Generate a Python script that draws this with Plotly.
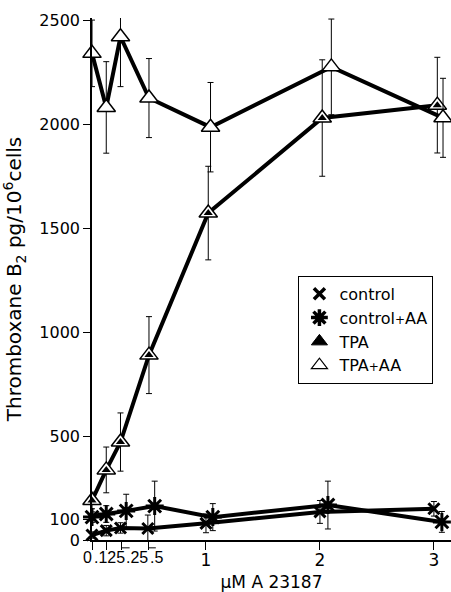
import plotly.graph_objects as go

# ---- data ----
x_tpa_aa = [0, 0.125, 0.25, 0.5, 1.04, 2.1, 3.08]
tpa_aa = [2340, 2080, 2420, 2125, 1985, 2275, 2030]
tpa_aa_err = [160, 220, 240, 190, 215, 230, 190]

x_tpa = [0, 0.125, 0.25, 0.5, 1.02, 2.02, 3.03]
tpa = [190, 337, 471, 889, 1572, 2029, 2091]
tpa_err = [40, 110, 140, 185, 225, 280, 230]

x_ctrl_aa = [0, 0.125, 0.3, 0.55, 1.06, 2.07, 3.07]
ctrl_aa = [110, 125, 140, 163, 110, 168, 87]
ctrl_aa_err = [25, 40, 80, 120, 65, 115, 50]

x_ctrl = [0, 0.125, 0.25, 0.49, 1.0, 2.0, 3.0]
ctrl = [24, 45, 58, 55, 80, 135, 150]
ctrl_err = [15, 25, 25, 65, 45, 55, 35]

y_ticks = [0, 100, 500, 1000, 1500, 2000, 2500]
x_ticks = [0, 0.125, 0.26, 0.5, 1, 2, 3]
x_ticktext = ["", "", "", "", "1", "2", "3"]
x_small_labels = ["0", ".125", ".25", ".5"]
x_small_label_pos = [0, 0.155, 0.395, 0.565]
x_small_label_shift = [-5, 0, 0, 0]

FONT = "DejaVu Sans"
BLACK = "black"

def err(arr):
    return dict(type="data", array=arr, visible=True, thickness=1, width=3, color=BLACK)

fig = go.Figure()

# control
fig.add_trace(go.Scatter(
    x=x_ctrl, y=ctrl, mode="lines+markers", error_y=err(ctrl_err),
    line=dict(color=BLACK, width=4),
    marker=dict(symbol="x-thin-open", size=11, color=BLACK, line=dict(color=BLACK, width=3)),
    showlegend=False, cliponaxis=False))
# control + AA
fig.add_trace(go.Scatter(
    x=x_ctrl_aa, y=ctrl_aa, mode="lines+markers", error_y=err(ctrl_aa_err),
    line=dict(color=BLACK, width=4),
    marker=dict(symbol="asterisk-open", size=15, color=BLACK, line=dict(color=BLACK, width=3)),
    showlegend=False, cliponaxis=False))
# TPA
fig.add_trace(go.Scatter(
    x=x_tpa, y=tpa, mode="lines+markers", error_y=err(tpa_err),
    line=dict(color=BLACK, width=4),
    marker=dict(symbol="triangle-up", size=16, color="white", line=dict(color=BLACK, width=1.5)),
    showlegend=False, cliponaxis=False))
fig.add_trace(go.Scatter(
    x=x_tpa, y=tpa, mode="markers",
    marker=dict(symbol="triangle-up", size=8, color=BLACK, line=dict(width=0)),
    showlegend=False, cliponaxis=False))
# TPA + AA
fig.add_trace(go.Scatter(
    x=x_tpa_aa, y=tpa_aa, mode="lines+markers", error_y=err(tpa_aa_err),
    line=dict(color=BLACK, width=4),
    marker=dict(symbol="triangle-up", size=16, color="white", line=dict(color=BLACK, width=1.5)),
    showlegend=False, cliponaxis=False))

# legend-only entries (markers only)
leg = [
    ("control", dict(symbol="x-thin-open", size=11, color=BLACK, line=dict(color=BLACK, width=3.5))),
    ("control<span style='font-size:12px'>+</span>AA", dict(symbol="asterisk-open", size=14, color=BLACK, line=dict(color=BLACK, width=3.5))),
    ("TPA", dict(symbol="triangle-up", size=14, color=BLACK, line=dict(color=BLACK, width=1))),
    ("TPA<span style='font-size:12px'>+</span>AA", dict(symbol="triangle-up", size=14, color="white", line=dict(color=BLACK, width=1.2))),
]
for name, mk in leg:
    fig.add_trace(go.Scatter(x=[None], y=[None], mode="markers", name=name, marker=mk, showlegend=True))

annotations = []
for lab, xp, xs in zip(x_small_labels, x_small_label_pos, x_small_label_shift):
    annotations.append(dict(x=xp, y=0, xref="x", yref="paper", yshift=-17, xshift=xs, text=lab,
                            yanchor="middle", xanchor="center",
                            showarrow=False, font=dict(family="Liberation Sans", size=16, color=BLACK)))

shapes = [
    dict(type="line", xref="x", yref="paper", x0=0.26, x1=0.33, y0=-0.015, y1=-0.015,
         line=dict(color=BLACK, width=1)),
    dict(type="line", xref="x", yref="paper", x0=0.5, x1=0.56, y0=-0.015, y1=-0.015,
         line=dict(color=BLACK, width=1)),
]

fig.update_layout(
    width=451, height=592,
    margin=dict(l=92, r=0, t=18, b=52),
    paper_bgcolor="white", plot_bgcolor="white",
    font=dict(family=FONT, size=17, color=BLACK),
    showlegend=True,
    legend=dict(x=0.575, y=0.506, xanchor="left", yanchor="top",
                bordercolor=BLACK, borderwidth=1, bgcolor="white",
                font=dict(family=FONT, size=16, color=BLACK),
                itemwidth=30, tracegroupgap=0),
    annotations=annotations,
    shapes=shapes,
    xaxis=dict(range=[0, 3.15], tickvals=x_ticks, ticktext=x_ticktext,
               ticks="outside", ticklen=8, tickwidth=1, tickcolor=BLACK,
               ticklabelstandoff=-4,
               showline=True, linecolor=BLACK, linewidth=1.5,
               showgrid=False, zeroline=False, automargin=False,
               tickfont=dict(family=FONT, size=17, color=BLACK),
               title=dict(text="μM A 23187", font=dict(family=FONT, size=17, color=BLACK))),
    yaxis=dict(range=[0, 2510], tickvals=y_ticks,
               ticks="outside", ticklen=7, tickwidth=1, tickcolor=BLACK,
               showline=True, linecolor=BLACK, linewidth=1.5,
               showgrid=False, zeroline=False, automargin=False,
               tickfont=dict(family=FONT, size=16, color=BLACK),
               title=dict(text="Thromboxane B<sub>2</sub> pg/10<sup>6</sup>cells",
                          font=dict(family=FONT, size=20, color=BLACK))),
)

fig.write_html("out.html", config={"displayModeBar": False},
               post_script="document.body.style.margin='0';document.body.style.padding='0';")
